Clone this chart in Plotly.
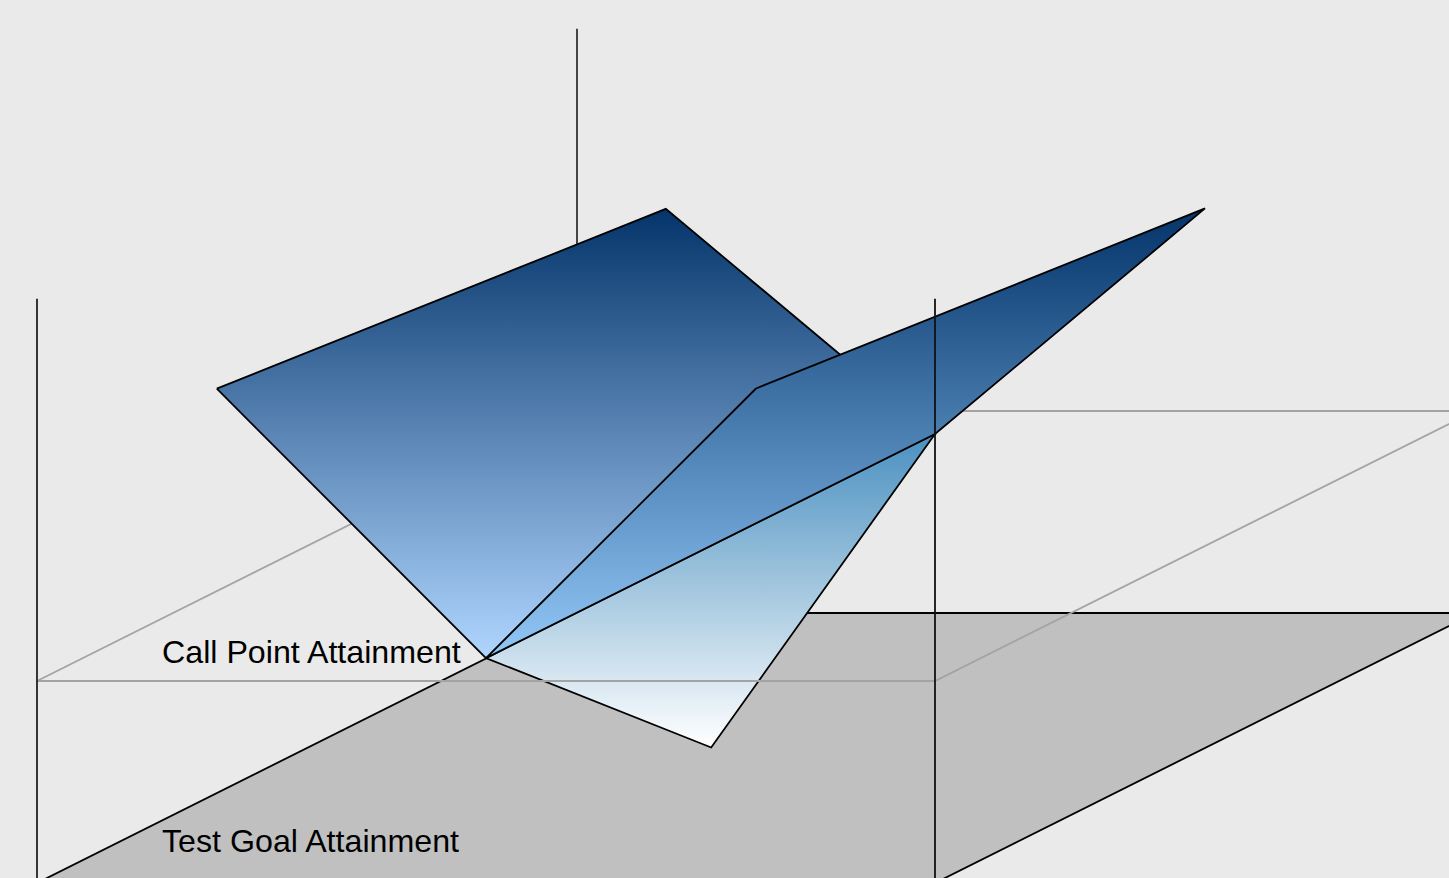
import plotly.graph_objects as go

# surface values: category position, series depth, value
back_cat = [0, 1, 2, 1]
back_depth = [0.333, 0.333, 0, 0]
back_val = [1.992, 2.878, 2.212, 1.108]

front_cat = [1, 2, 2, 1]
front_depth = [0.5, 0.5, 0, 0]
front_val = [1.771, 2.658, 2.212, 1.108]

low_cat = [1, 1, 2]
low_depth = [0, 0.417, 0]
low_val = [1.108, 0.113, 2.212]

series_labels = ["Call Point Attainment", "Test Goal Attainment"]

z_top = 2.878
z_grid = 0.995


def project(cat, depth, val):
    # Excel style oblique view, gives page pixels
    xs = [37 + 449 * c + 540 * d for c, d in zip(cat, depth)]
    ys = [883 - 270 * d - 203 * v for d, v in zip(depth, val)]
    return xs, ys


def add_poly(fig, cat, depth, val, top, bottom):
    xs, ys = project(list(cat) + [cat[0]], list(depth) + [depth[0]], list(val) + [val[0]])
    fig.add_trace(
        go.Scatter(
            x=xs,
            y=ys,
            mode="lines",
            fill="toself",
            fillgradient=dict(
                type="vertical",
                start=min(ys),
                stop=max(ys),
                colorscale=[[0, top], [1, bottom]],
            ),
            line=dict(color="#000000", width=1.8),
            hoverinfo="skip",
            showlegend=False,
        )
    )


def add_line(fig, cat, depth, val, color, width=1.8):
    xs, ys = project(cat, depth, val)
    fig.add_trace(
        go.Scatter(
            x=xs,
            y=ys,
            mode="lines",
            line=dict(color=color, width=width),
            hoverinfo="skip",
            showlegend=False,
        )
    )


fig = go.Figure()

# floor
xs, ys = project([0, 2, 2, 0, 0], [0, 0, 1, 1, 0], [0, 0, 0, 0, 0])
fig.add_trace(
    go.Scatter(
        x=xs,
        y=ys,
        mode="lines",
        fill="toself",
        fillcolor="#c0c0c0",
        line=dict(color="#000000", width=1.8),
        hoverinfo="skip",
        showlegend=False,
    )
)

# everything behind the surface
add_line(fig, [0, 0], [1, 1], [0, z_top], "#333333")
add_line(fig, [0, 0, 2], [0, 1, 1], [z_grid, z_grid, z_grid], "#a3a3a3")

add_poly(fig, back_cat, back_depth, back_val, "#04346a", "#b0d6ff")
add_poly(fig, low_cat, low_depth, low_val, "#4a90c0", "#ffffff")
add_poly(fig, front_cat, front_depth, front_val, "#04346a", "#92c8f8")

# everything in front of it
add_line(fig, [0, 2, 2], [0, 0, 1], [z_grid, z_grid, z_grid], "#a3a3a3")
add_line(fig, [0, 0], [0, 0], [0, z_top], "#222222")
add_line(fig, [2, 2], [0, 0], [0, z_top], "#111111")

for label, y in zip(series_labels, [652, 841]):
    fig.add_annotation(
        x=160,
        y=y,
        text=label,
        showarrow=False,
        xanchor="left",
        yanchor="middle",
        font=dict(family="Liberation Sans, Arial", size=32.2, color="#000000"),
    )

fig.update_xaxes(range=[0, 1449], visible=False)
fig.update_yaxes(range=[878, 0], visible=False)
fig.update_layout(
    width=1449,
    height=878,
    margin=dict(l=0, r=0, t=0, b=0),
    paper_bgcolor="#eaeaea",
    plot_bgcolor="#eaeaea",
)

fig.write_html(
    "out.html",
    config=dict(displayModeBar=False),
    post_script="document.body.style.margin = '0';",
)
